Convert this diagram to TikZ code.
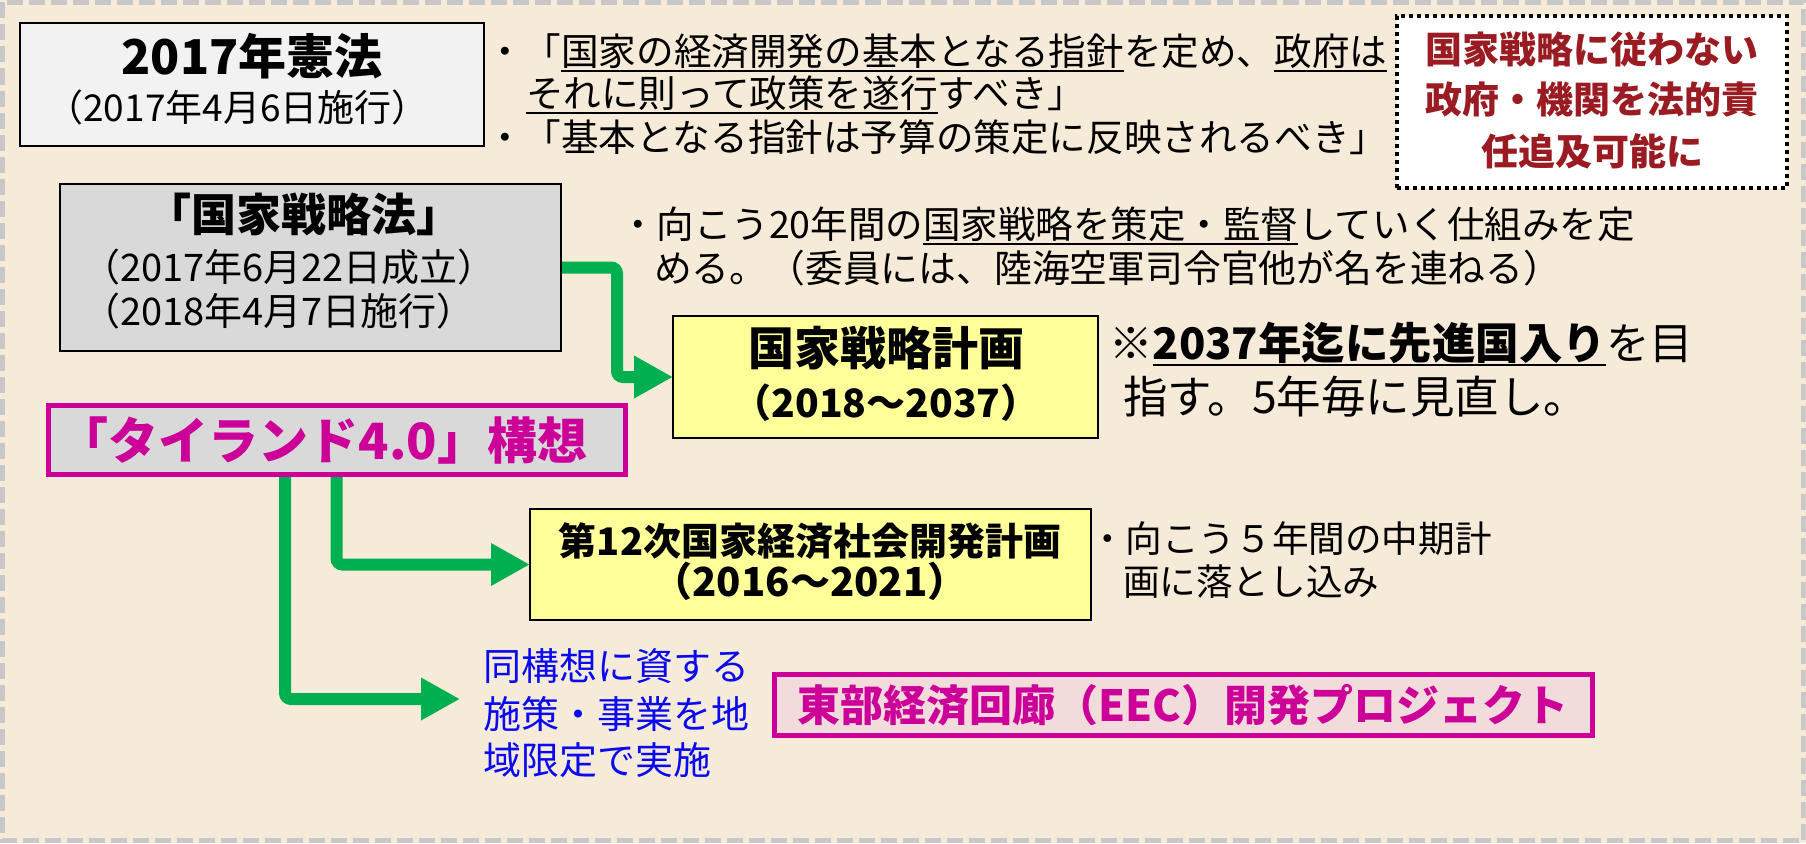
\documentclass[tikz,border=0pt]{standalone}
\usepackage{fontspec}
\setmainfont{Noto Sans CJK JP}
\usetikzlibrary{arrows.meta}
\pgfdeclarelayer{back}
\pgfsetlayers{back,main}
\definecolor{bgc}{HTML}{F6EBD8}
\definecolor{framec}{HTML}{C8C8C8}
\definecolor{boxa}{HTML}{F2F2F2}
\definecolor{boxg}{HTML}{D9D9D9}
\definecolor{yel}{HTML}{FFFF99}
\definecolor{mag}{HTML}{CC0099}
\definecolor{pinkf}{HTML}{F2DCDB}
\definecolor{grn}{HTML}{00B050}
\definecolor{redtxt}{HTML}{9A1C22}
\definecolor{bluetxt}{HTML}{0A0AF0}
\newsavebox\myulbox
\newcommand\myul[1]{\sbox\myulbox{#1}\rlap{\rule[-0.16em]{\wd\myulbox}{0.055em}}\usebox\myulbox}
\tikzset{
  box/.style={draw=black, line width=1.6pt, inner sep=0pt, outer sep=0pt, anchor=north west},
  magbox/.style={box, draw=mag, line width=5pt},
  txt/.style={inner sep=0pt, outer sep=0pt},
  rg/.style={font=\fontsize{#1}{#1}\selectfont},
  bd/.style={font=\fontsize{#1}{#1}\selectfont\bfseries},
  garrow/.style={draw=grn, line width=12pt, rounded corners=6pt, -{Triangle[length=39pt,width=40pt]}}
}
\begin{document}
\begin{tikzpicture}[x=1pt,y=-1pt]
\useasboundingbox (0,0) rectangle (1806,843);
\begin{pgfonlayer}{back}
\fill[bgc] (0,0) rectangle (1806,843);
\draw[framec, line width=5pt, dash pattern=on 16pt off 6pt] (2.5,2.5) rectangle (1803.5,840.5);
\end{pgfonlayer}

% boxes
\node[box, fill=boxa, minimum width=464pt, minimum height=123pt] (A) at (20,23) {};
\node[box, fill=white, line width=4pt, dash pattern=on 4pt off 4pt, minimum width=390pt, minimum height=172pt] (R) at (1397,16) {};
\node[box, fill=boxg, minimum width=501pt, minimum height=167pt] (B) at (60,184) {};
\node[box, fill=yel, minimum width=425pt, minimum height=122pt] (C) at (673,316) {};
\node[magbox, fill=boxg, minimum width=577pt, minimum height=69pt] (D) at (48,405) {};
\node[box, fill=yel, minimum width=561pt, minimum height=111pt] (E) at (530,509) {};
\node[magbox, fill=pinkf, minimum width=818pt, minimum height=61pt] (F) at (774,674) {};

% texts
\node[txt, bd=48, anchor=base] (A1) at (252,74.8) {2017年憲法};
\node[txt, rg=37, anchor=base] (A2) at (237.5,121.7) {（2017年4月6日施行）};

\node[txt, rg=37.6, anchor=base west] (T1) at (486,65.9) {・「\myul{国家の経済開発の基本となる指針}を定め、\myul{政府は}};
\node[txt, rg=37.6, anchor=base west] (T2) at (526,107.9) {\myul{それに則って政策を遂行}すべき」};
\node[txt, rg=37.6, anchor=base west] (T3) at (486,151.9) {・「基本となる指針は予算の策定に反映されるべき」};

\node[txt, bd=37, text=redtxt, anchor=base] (R1) at (1592,63.7) {国家戦略に従わない};
\node[txt, bd=37, text=redtxt, anchor=base] (R2) at (1592,113.7) {政府・機関を法的責};
\node[txt, bd=37, text=redtxt, anchor=base] (R3) at (1592,165.7) {任追及可能に};

\node[txt, bd=45, anchor=base] (B1) at (304,231.6) {「国家戦略法」};
\node[txt, rg=38, anchor=base west] (B2) at (82,281) {（2017年6月22日成立）};
\node[txt, rg=38, anchor=base west] (B3) at (82,325) {（2018年4月7日施行）};

\node[txt, rg=37.5, anchor=base west] (S1) at (619,238.9) {・向こう20年間の\myul{国家戦略を策定・監督}していく仕組みを定};
\node[txt, rg=37.8, anchor=base west] (S2) at (654,282) {める。（委員には、陸海空軍司令官他が名を連ねる）};

\node[txt, bd=46, anchor=base] (C1) at (886,365) {国家戦略計画};
\node[txt, bd=39, anchor=base] (C2) at (886,417.4) {（2018〜2037）};

\node[txt, rg=43.5, anchor=base west] (N1) at (1109,359.2) {※\myul{\bfseries 2037年迄に先進国入り}を目};
\node[txt, rg=44.5, anchor=base west] (N2) at (1123,413.5) {指す。5年毎に見直し。};

\node[txt, bd=50, text=mag, anchor=base] (D1) at (323,459.5) {「タイランド4.0」構想};

\node[txt, bd=38, anchor=base] (E1) at (810,555) {第12次国家経済社会開発計画};
\node[txt, bd=40, anchor=base] (E2) at (810,596.8) {（2016〜2021）};

\node[txt, rg=36.6, anchor=base west] (P1) at (1089,552.5) {・向こう５年間の中期計};
\node[txt, rg=36.6, anchor=base west] (P2) at (1123,595.5) {画に落とし込み};

\node[txt, rg=38, text=bluetxt, anchor=base west] (G1) at (483,680) {同構想に資する};
\node[txt, rg=38, text=bluetxt, anchor=base west] (G2) at (483,728) {施策・事業を地};
\node[txt, rg=38, text=bluetxt, anchor=base west] (G3) at (483,774) {域限定で実施};

\node[txt, bd=43, text=mag, anchor=base] (F1) at (1183,721) {東部経済回廊（EEC）開発プロジェクト};

% connectors
\coordinate (d3) at ([xshift=-51.5pt]D.south);
\coordinate (t3) at (460,699);
\begin{pgfonlayer}{back}
\draw[garrow] (B.east) -- ++(56,0) |- (C.west);
\draw[garrow] (D.south) |- (E.west);
\draw[garrow] (d3) |- (t3);
\end{pgfonlayer}
\end{tikzpicture}
\end{document}
